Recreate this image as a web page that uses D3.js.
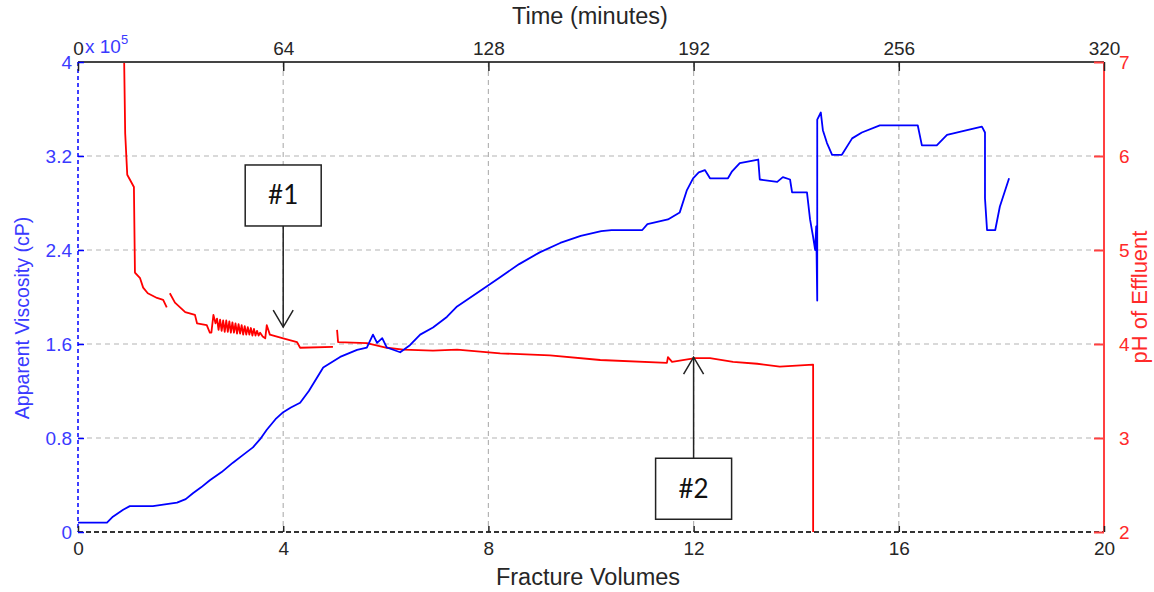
<!DOCTYPE html>
<html>
<head>
<meta charset="utf-8">
<script src="https://cdn.jsdelivr.net/npm/d3@7/dist/d3.min.js"></script>
<style>
  html, body { margin: 0; padding: 0; background: #fff; }
  svg { display: block; font-family: "Liberation Sans", Arial, sans-serif; }
</style>
</head>
<body>
<svg id="chart" width="1154" height="592"></svg>
<script>
// Axis ticks
const fvTicks = [0, 4, 8, 12, 16, 20];
const timeTicks = [0, 64, 128, 192, 256, 320];
const viscTicks = [0, 0.8, 1.6, 2.4, 3.2, 4];
const phTicks = [2, 3, 4, 5, 6, 7];

// Apparent viscosity (x 10^5 cP) against fracture volumes
const viscFV = [0, 0.565, 0.68, 0.88, 1.01, 1.46, 1.93, 2.1, 2.24, 2.4, 2.57, 2.8, 3.02, 3.2, 3.41, 3.55, 3.68, 3.85, 4.0, 4.15, 4.33, 4.5, 4.78,
  5.11, 5.44, 5.63, 5.75, 5.83, 5.93, 6.02, 6.28, 6.47, 6.67, 6.92, 7.19, 7.39, 7.8, 8.2, 8.6, 9.0, 9.4,
  9.8, 10.2, 10.4, 11.0, 11.1, 11.5, 11.73, 11.87, 11.99, 12.1, 12.22, 12.32, 12.67, 12.75, 12.9, 13.26,
  13.29, 13.63, 13.74, 13.88, 13.92, 14.21, 14.27, 14.33, 14.37, 14.39, 14.41, 14.41, 14.48, 14.52, 14.6,
  14.7, 14.89, 15.09, 15.28, 15.63, 16.37, 16.45, 16.74, 16.94, 17.33, 17.62, 17.68, 17.68, 17.72, 17.88,
  17.97, 18.15];
const viscValues = [0.08, 0.08, 0.13, 0.19, 0.22, 0.22, 0.25, 0.28, 0.33, 0.38, 0.44, 0.51, 0.59, 0.65, 0.72, 0.79, 0.87, 0.96, 1.02, 1.06, 1.1, 1.2, 1.4,
  1.49, 1.55, 1.57, 1.68, 1.61, 1.65, 1.57, 1.53, 1.59, 1.68, 1.74, 1.83, 1.92, 2.04, 2.16, 2.28, 2.38, 2.46,
  2.52, 2.56, 2.57, 2.57, 2.62, 2.66, 2.72, 2.91, 3.01, 3.06, 3.08, 3.01, 3.01, 3.07, 3.14, 3.17,
  3.0, 2.98, 3.02, 3.0, 2.89, 2.89, 2.66, 2.51, 2.4, 2.6, 1.97, 3.51, 3.57, 3.42, 3.31,
  3.21, 3.21, 3.35, 3.4, 3.46, 3.46, 3.29, 3.29, 3.38, 3.42, 3.45, 3.4, 2.84, 2.57, 2.57,
  2.77, 3.01];

// pH of effluent against fracture volumes (null marks a break in the record)
const phFV = [0.9, 0.92, 0.96, 1.09, 1.11, 1.21, 1.27, 1.36, 1.54, 1.66, 1.73, 1.76,
  1.79, 1.89, 2.09, 2.28, 2.32, 2.51, 2.57, 2.6, 2.64, 2.68, 2.71, 2.74, 2.77, 2.8, 2.83, 2.86, 2.89,
  2.92, 2.95, 2.98, 3.01, 3.04, 3.07, 3.1, 3.13, 3.16, 3.19, 3.22, 3.25, 3.28, 3.31, 3.34, 3.37, 3.4,
  3.43, 3.46, 3.49, 3.52, 3.55, 3.6, 3.65, 3.68, 3.74, 4.0, 4.27, 4.33, 4.97, 5.0,
  5.05, 5.07, 5.63, 6.02, 6.34, 6.92, 7.39, 8.23, 9.2, 10.18, 11.48, 11.5, 11.58, 12.03, 12.32, 12.77,
  13.24, 13.68, 14.33, 14.33];
const phValues = [7.0, 6.24, 5.8, 5.67, 4.76, 4.7, 4.6, 4.54, 4.49, 4.47, 4.39, null,
  4.54, 4.44, 4.34, 4.31, 4.22, 4.2, 4.12, 4.12, 4.31, 4.22, 4.27, 4.15, 4.26, 4.14, 4.25, 4.13, 4.25,
  4.13, 4.24, 4.12, 4.23, 4.12, 4.22, 4.11, 4.21, 4.11, 4.2, 4.1, 4.19, 4.1, 4.18, 4.1, 4.17, 4.09,
  4.16, 4.09, 4.14, 4.09, 4.12, 4.08, 4.06, 4.2, 4.1, 4.06, 4.02, 3.96, 3.97, null,
  4.15, 4.02, 4.01, 3.96, 3.94, 3.93, 3.94, 3.9, 3.88, 3.83, 3.8, 3.86, 3.81, 3.85, 3.85, 3.81,
  3.79, 3.76, 3.78, 2.0];

// Callouts: label, fracture volume, pH at arrow tip, pH at box centre
const noteLabels = ["#1", "#2"];
const noteFV = [4, 12];
const noteTipPH = [4.18, 3.86];
const noteBoxPH = [5.58, 2.46];

const svg = d3.select("#chart");
const L = 78, R = 1104, T = 62, B = 532;

const x = d3.scaleLinear().domain([0, 20]).range([L, R]);
const xTime = d3.scaleLinear().domain([0, 320]).range([L, R]);
const yV = d3.scaleLinear().domain([0, 4]).range([B, T]);
const yP = d3.scaleLinear().domain([2, 7]).range([B, T]);

const BLUE = "#0000ff", RED = "#ff0000";
const BLUE_TXT = "#3a3aff", RED_TXT = "#ff2a2a", DARK = "#262626";
const FONT = "Liberation Sans, Arial, sans-serif";

// grid
const grid = svg.append("g").attr("stroke", "#b4b4b4").attr("stroke-width", 1.2)
  .attr("stroke-dasharray", "5,4");
grid.selectAll("line.v").data(fvTicks.filter(d => d > 0 && d < 20)).join("line")
  .attr("x1", d => x(d)).attr("x2", d => x(d)).attr("y1", T).attr("y2", B);
grid.selectAll("line.h").data(viscTicks.filter(d => d > 0 && d < 4)).join("line")
  .attr("x1", L).attr("x2", R).attr("y1", d => yV(d)).attr("y2", d => yV(d));

// clip
svg.append("clipPath").attr("id", "plot").append("rect")
  .attr("x", L).attr("y", T).attr("width", R - L).attr("height", B - T);

// series
const viscData = viscFV.map((d, i) => [d, viscValues[i]]);
const phData = phFV.map((d, i) => [d, phValues[i]]);

svg.append("path").datum(phData)
  .attr("clip-path", "url(#plot)")
  .attr("fill", "none").attr("stroke", RED).attr("stroke-width", 1.8)
  .attr("stroke-linejoin", "round")
  .attr("d", d3.line().defined(d => d[1] != null).x(d => x(d[0])).y(d => yP(d[1])));

svg.append("path").datum(viscData)
  .attr("clip-path", "url(#plot)")
  .attr("fill", "none").attr("stroke", BLUE).attr("stroke-width", 1.8)
  .attr("stroke-linejoin", "round")
  .attr("d", d3.line().x(d => x(d[0])).y(d => yV(d[1])));

// frame
svg.append("line").attr("x1", L).attr("x2", R).attr("y1", T).attr("y2", T)
  .attr("stroke", "#444").attr("stroke-width", 2);
svg.append("line").attr("x1", L).attr("x2", R).attr("y1", B).attr("y2", B)
  .attr("stroke", "#333").attr("stroke-width", 2).attr("stroke-dasharray", "5,3");
svg.append("line").attr("x1", L).attr("x2", L).attr("y1", T).attr("y2", B)
  .attr("stroke", BLUE).attr("stroke-width", 1.5).attr("stroke-dasharray", "4,3");
svg.append("line").attr("x1", R).attr("x2", R).attr("y1", T).attr("y2", B)
  .attr("stroke", "#ff4040").attr("stroke-width", 2);

function styleTicks(g, lineColor, textColor) {
  g.select(".domain").remove();
  g.selectAll(".tick line").attr("stroke", lineColor).attr("stroke-width", 1.5);
  g.selectAll(".tick text").attr("fill", textColor).attr("font-size", 19).attr("font-family", FONT);
}

// bottom axis
svg.append("g").attr("transform", `translate(0,${B})`)
  .call(d3.axisBottom(x).tickValues(fvTicks).tickSize(-6).tickPadding(10).tickFormat(d3.format("d")))
  .call(g => styleTicks(g, "#222", DARK));

// top axis
svg.append("g").attr("transform", `translate(0,${T})`)
  .call(d3.axisTop(xTime).tickValues(timeTicks).tickSize(-9).tickPadding(7).tickFormat(d3.format("d")))
  .call(g => styleTicks(g, "#222", DARK));

// left axis
svg.append("g").attr("transform", `translate(${L},0)`)
  .call(d3.axisLeft(yV).tickValues(viscTicks).tickSize(-6).tickPadding(6).tickFormat(d => d3.format("")(d)))
  .call(g => styleTicks(g, BLUE, BLUE_TXT));

// right axis
svg.append("g").attr("transform", `translate(${R},0)`)
  .call(d3.axisRight(yP).tickValues(phTicks).tickSize(-10).tickPadding(15).tickFormat(d3.format("d")))
  .call(g => styleTicks(g, "#ff4040", RED_TXT))
  .call(g => g.selectAll(".tick line").attr("stroke-width", 2));

// exponent label on the viscosity axis
const expo = svg.append("text").attr("x", L + 7).attr("y", T - 9)
  .attr("fill", BLUE_TXT).attr("font-size", 19);
expo.append("tspan").text("x 10");
expo.append("tspan").attr("dy", -9).attr("font-size", 13).text("5");

// axis titles
svg.append("text").attr("x", 590).attr("y", 24).attr("text-anchor", "middle")
  .attr("fill", DARK).attr("font-size", 23.5).text("Time (minutes)");
svg.append("text").attr("x", 588).attr("y", 585).attr("text-anchor", "middle")
  .attr("fill", DARK).attr("font-size", 23.5).text("Fracture Volumes");
svg.append("text").attr("transform", `translate(29,318) rotate(-90)`)
  .attr("text-anchor", "middle").attr("fill", BLUE_TXT).attr("font-size", 19.5)
  .text("Apparent Viscosity (cP)");
svg.append("text").attr("transform", `translate(1147,297) rotate(-90)`)
  .attr("text-anchor", "middle").attr("fill", RED_TXT).attr("font-size", 22)
  .text("pH of Effluent");

// callouts
const boxW = 76, boxH = 61;
const notes = svg.append("g").attr("stroke", "#222").attr("stroke-width", 1.5).attr("fill", "none");
noteLabels.forEach((lab, i) => {
  const cx = x(noteFV[i]), cy = yP(noteBoxPH[i]), ty = yP(noteTipPH[i]);
  const fromY = ty > cy ? cy + boxH / 2 : cy - boxH / 2;
  const dir = ty > fromY ? 1 : -1;
  notes.append("rect").attr("x", cx - boxW / 2).attr("y", cy - boxH / 2)
    .attr("width", boxW).attr("height", boxH).attr("fill", "#fff");
  notes.append("line").attr("x1", cx).attr("x2", cx).attr("y1", fromY).attr("y2", ty);
  notes.append("path").attr("d", `M${cx - 10},${ty - dir * 17}L${cx},${ty}L${cx + 10},${ty - dir * 17}`);
  svg.append("text").attr("x", cx).attr("y", cy + 9).attr("text-anchor", "middle")
    .attr("font-family", "Lato, 'Open Sans', sans-serif").attr("font-size", 26)
    .attr("fill", "#111").text(lab);
});
</script>
</body>
</html>
